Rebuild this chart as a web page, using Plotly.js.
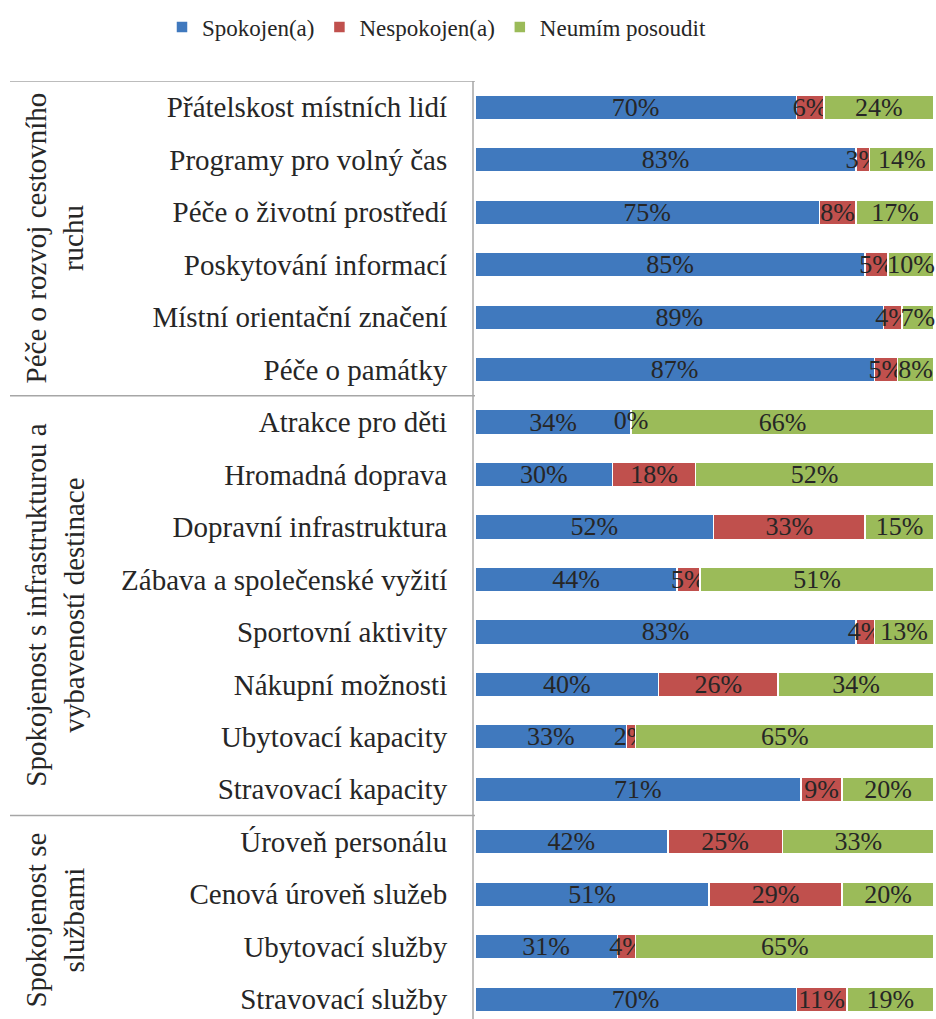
<!DOCTYPE html>
<html>
<head>
<meta charset="utf-8">
<script src="https://cdn.plot.ly/plotly-3.0.1.min.js"></script>
<style>html,body{margin:0;padding:0;background:#fff;}#chart{width:936px;height:1019px;}</style>
</head>
<body>
<div id="chart"></div>
<script>
const categories = [
  "Přátelskost místních lidí",
  "Programy pro volný čas",
  "Péče o životní prostředí",
  "Poskytování informací",
  "Místní orientační značení",
  "Péče o památky",
  "Atrakce pro děti",
  "Hromadná doprava",
  "Dopravní infrastruktura",
  "Zábava a společenské vyžití",
  "Sportovní aktivity",
  "Nákupní možnosti",
  "Ubytovací kapacity",
  "Stravovací kapacity",
  "Úroveň personálu",
  "Cenová úroveň služeb",
  "Ubytovací služby",
  "Stravovací služby"
];
const spokojen   = [70, 83, 75, 85, 89, 87, 34, 30, 52, 44, 83, 40, 33, 71, 42, 51, 31, 70];
const nespokojen = [6, 3, 8, 5, 4, 5, 0, 18, 33, 5, 4, 26, 2, 9, 25, 29, 4, 11];
const neumim     = [24, 14, 17, 10, 7, 8, 66, 52, 15, 51, 13, 34, 65, 20, 33, 20, 65, 19];
const seriesNames = ["Spokojen(a)", "Nespokojen(a)", "Neumím posoudit"];
const groups = [
  {label: "Péče o rozvoj cestovního<br>ruchu", first: 0, last: 5},
  {label: "Spokojenost s infrastrukturou a<br>vybaveností destinace", first: 6, last: 13},
  {label: "Spokojenost se<br>službami", first: 14, last: 17}
];

const FONT = 'Liberation Serif, Times New Roman, DejaVu Serif, serif';
const colors = ["#4079BE", "#C0504D", "#9BBB59"];
const series = [spokojen, nespokojen, neumim];
const textColor = '#262626';

const traces = series.map((vals, i) => ({
  type: 'bar',
  orientation: 'h',
  name: seriesNames[i],
  y: categories,
  x: vals,
  marker: {color: colors[i], line: {color: '#ffffff', width: 1.5}},
  texttemplate: '%{x}%',
  textposition: 'inside',
  insidetextanchor: 'middle',
  textangle: 0,
  constraintext: 'none',
  textfont: {family: FONT, size: 26, color: textColor},
  hoverinfo: 'skip',
  cliponaxis: false
}));

// labels for zero-width segments (the bar library draws no text for them)
const zeroX = [], zeroY = [], zeroT = [];
nespokojen.forEach((v, i) => {
  if (v === 0) { zeroX.push(spokojen[i] + v / 2); zeroY.push(categories[i]); zeroT.push(v + '%'); }
});
traces.push({
  type: 'scatter', mode: 'text', x: zeroX, y: zeroY, text: zeroT,
  textposition: 'middle center', textfont: {family: FONT, size: 26, color: textColor},
  showlegend: false, hoverinfo: 'skip', cliponaxis: false
});

const plotLeftPx = 475;
const plotWidthPx = 936 - plotLeftPx - 2;
const plotTopPx = 81;
const plotHeightPx = 1019 - plotTopPx;
const px2paper = px => (px - plotLeftPx) / plotWidthPx;

const shapes = [];
const annotations = [];
const lineColor = '#A6A6A6';
shapes.push({type: 'line', xref: 'paper', yref: 'y', x0: px2paper(10), x1: 0, y0: -0.5, y1: -0.5, line: {color: lineColor, width: 1.5}});
groups.forEach(g => {
  shapes.push({type: 'line', xref: 'paper', yref: 'y', x0: px2paper(10), x1: 0, y0: g.last + 0.5, y1: g.last + 0.5, line: {color: lineColor, width: 1.5}});
  annotations.push({
    xref: 'paper', yref: 'y',
    x: px2paper(55), y: (g.first + g.last) / 2,
    text: g.label, showarrow: false, textangle: -90,
    font: {family: FONT, size: 29, color: textColor},
    align: 'center', xanchor: 'center', yanchor: 'middle'
  });
});
shapes.push({type: 'line', xref: 'paper', yref: 'y', x0: px2paper(473), x1: px2paper(473), y0: -0.5, y1: 18, line: {color: lineColor, width: 1.5}});

const layout = {
  width: 936, height: 1019,
  margin: {l: plotLeftPx, r: 2, t: plotTopPx, b: 0, pad: 0},
  paper_bgcolor: '#ffffff', plot_bgcolor: '#ffffff',
  barmode: 'stack',
  bargap: 0.53,
  showlegend: true,
  legend: {
    orientation: 'h', xref: 'paper', yref: 'paper',
    x: px2paper(162), y: 1 + (plotTopPx - 27) / plotHeightPx, xanchor: 'left', yanchor: 'middle',
    font: {family: FONT, size: 23, color: textColor},
    traceorder: 'normal', itemwidth: 30,
    bgcolor: 'rgba(0,0,0,0)'
  },
  xaxis: {range: [0, 100], visible: false, fixedrange: true},
  yaxis: {
    type: 'category', categoryorder: 'array', categoryarray: categories,
    range: [17.377, -0.5], autorange: false,
    showgrid: false, zeroline: false, showline: false,
    ticks: 'outside', ticklen: 21, tickcolor: 'rgba(0,0,0,0)',
    tickfont: {family: FONT, size: 29, color: textColor},
    fixedrange: true
  },
  shapes: shapes,
  annotations: annotations,
  font: {family: FONT}
};

Plotly.newPlot('chart', traces, layout, {displayModeBar: false, staticPlot: true});
</script>
</body>
</html>
